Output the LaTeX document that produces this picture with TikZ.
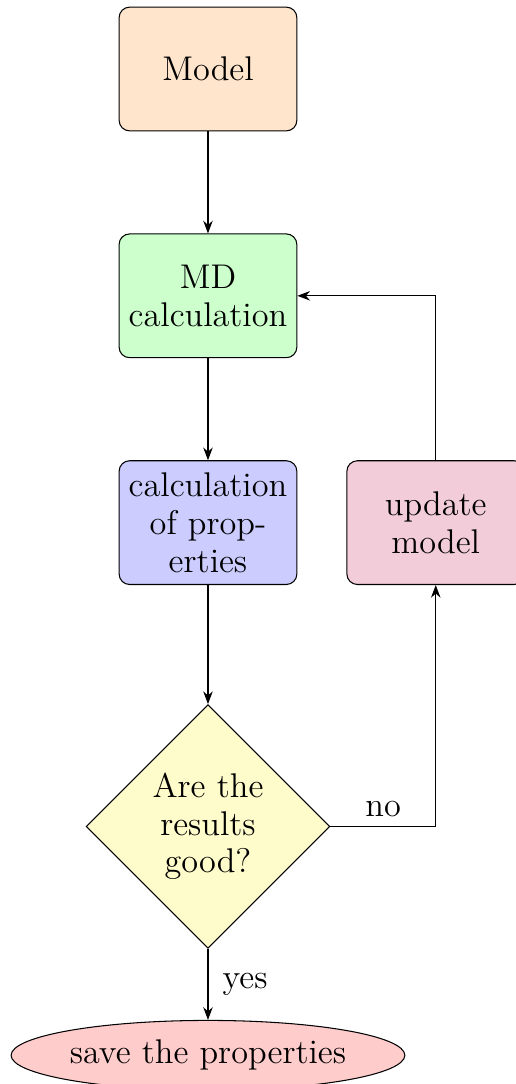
\documentclass[tikz,border=0pt]{standalone}
\usepackage{xcolor}
\usepackage{tikz}
\usetikzlibrary{shapes.geometric, arrows.meta, positioning}

\newcommand{\flowfont}{\fontsize{13}{14.3}\selectfont}

\begin{document}
\begin{tikzpicture}[node distance=1.36cm, auto, >=Stealth, font=\flowfont]
    \tikzstyle{process} = [rectangle, rounded corners, draw=black, minimum width=2.37cm, minimum height=1.65cm, align=center]
    \tikzstyle{decision} = [diamond, draw=black, fill=yellow!20, minimum width=3.25cm, minimum height=3.25cm, inner sep=0pt, align=center]
    \tikzstyle{startstop} = [ellipse, draw=black, fill=red!20, minimum width=5.25cm, minimum height=0.93cm, inner sep=0pt]
    \tikzstyle{arrow} = [->]

    \useasboundingbox (0,0) rectangle (6.867,-14.453);

    \node (model) [process, fill=orange!20] at (2.773,-0.92) {Model};
    \node (md) [process, fill=green!20, below=of model] {MD\\calculation};
    \node (props) [process, fill=blue!20, below=of md] {calculation\\of prop-\\erties};
    \node (update) [process, fill=purple!20, right=0.653cm of props] {update\\model};
    \node (check) [decision, below=1.587cm of props] {Are the\\results\\good?};
    \node (save) [startstop, below=0.947cm of check] {save the properties};

    % Main line (top to bottom)
    \draw[arrow] (model) -- (md);
    \draw[arrow] (md) -- (props);
    \draw[arrow] (props) -- (check);
    \draw[arrow] (check) -- node[right=2pt] {yes} (save);

    % Loop back (right side)
    \draw[arrow] (check.east) -| node[pos=0.25, above] {no} (update.south);
    \draw[arrow] (update.north) |- (md.east);
\end{tikzpicture}
\end{document}
